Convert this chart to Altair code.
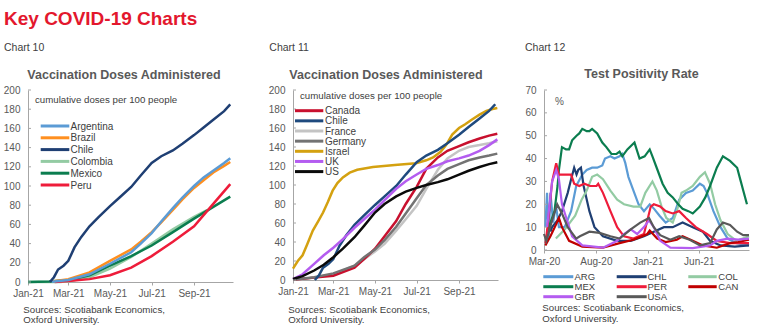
import altair as alt
import pandas as pd

FONT = "Liberation Sans"
TXT = "#404040"
AXC = "#595959"
DOM = "#A6A6A6"
TITLE_RED = "#E3172D"

# ---------------- Chart 10 data (cumulative doses per 100 people) ----------------
c10_names = ["Argentina", "Brazil", "Chile", "Colombia", "Mexico", "Peru"]
c10_colors = ["#5B9BD5", "#FF8F1F", "#1F3F73", "#93CBA3", "#0B7D4F", "#EE1C3A"]
c10_draw = ["Colombia", "Mexico", "Peru", "Brazil", "Argentina", "Chile"]

arg10_dates = ["2021-02-05", "2021-03-01", "2021-04-01", "2021-05-01", "2021-06-01", "2021-06-15",
               "2021-07-01", "2021-07-15", "2021-08-01", "2021-08-15", "2021-09-01", "2021-09-15",
               "2021-10-01", "2021-10-15", "2021-10-24"]
arg10_vals = [0.3, 2, 8, 19, 31, 40, 51, 63, 77, 88, 100, 109, 117, 124, 129]
bra10_dates = arg10_dates
bra10_vals = [0.5, 3, 10, 22, 34, 42, 52, 62, 75, 86, 98, 106, 115, 121, 125]
chile_dates = ["2021-02-02", "2021-02-08", "2021-02-14", "2021-02-22", "2021-03-01", "2021-03-10",
               "2021-03-20", "2021-04-01", "2021-04-15", "2021-05-01", "2021-05-15", "2021-06-01",
               "2021-06-15", "2021-07-01", "2021-07-15", "2021-08-01", "2021-08-15", "2021-09-01",
               "2021-09-15", "2021-10-01", "2021-10-15", "2021-10-24"]
chile_vals = [0, 5, 13, 17, 22, 36, 47, 58, 68, 79, 88, 99, 111, 124, 131, 137, 144, 153, 161, 170, 178, 185]
col10_dates = ["2021-01-01", "2021-02-17", "2021-03-01", "2021-04-01", "2021-05-01", "2021-06-01",
               "2021-07-01", "2021-08-01", "2021-09-01", "2021-09-20"]
col10_vals = [0, 0, 0.8, 5, 14, 26, 40, 55, 68, 75]
mex10_dates = ["2021-01-01", "2021-02-01", "2021-03-01", "2021-04-01", "2021-05-01", "2021-06-01",
               "2021-07-01", "2021-08-01", "2021-09-01", "2021-10-01", "2021-10-24"]
mex10_vals = [0, 0.5, 2, 7, 17, 27, 38, 52, 66, 79, 89]
per10_dates = ["2021-02-09", "2021-03-01", "2021-04-01", "2021-05-01", "2021-06-01", "2021-07-01",
               "2021-08-01", "2021-09-01", "2021-10-01", "2021-10-24"]
per10_vals = [0, 1, 3, 7, 15, 27, 42, 58, 83, 102]

# ---------------- Chart 11 data ----------------
c11_names = ["Canada", "Chile", "France", "Germany", "Israel", "UK", "US"]
c11_colors = ["#C8102E", "#1F4A7E", "#C4C4C4", "#737373", "#D4A110", "#B45CF0", "#0A0A0A"]
c11_draw = ["France", "Canada", "Germany", "Israel", "Chile", "UK", "US"]

semi_dates = ["2021-01-01", "2021-02-01", "2021-03-01", "2021-04-01", "2021-04-15", "2021-05-01",
              "2021-05-15", "2021-06-01", "2021-06-15", "2021-07-01", "2021-07-15", "2021-08-01",
              "2021-08-15", "2021-09-01", "2021-09-15", "2021-10-01", "2021-10-15", "2021-10-27"]
can_vals = [0.3, 2.5, 4.5, 13, 22, 33, 46, 62, 80, 98, 117, 129, 136, 141, 145, 149, 152, 154]
fra_vals = [0, 2.5, 6, 15, 22, 30, 38, 52, 64, 78, 96, 116, 128, 136, 140, 142, 144, 146]
ger_vals = [0.2, 2.8, 7, 15, 24, 32, 42, 56, 70, 86, 100, 110, 117, 122, 126, 129, 131, 133]
isr_dates = ["2021-01-01", "2021-01-08", "2021-01-15", "2021-01-22", "2021-01-30", "2021-02-07",
             "2021-02-14", "2021-02-21", "2021-02-28", "2021-03-07", "2021-03-15", "2021-03-25",
             "2021-04-05", "2021-04-28", "2021-05-30", "2021-06-30", "2021-07-15", "2021-07-25",
             "2021-08-05", "2021-08-13", "2021-08-22", "2021-09-01", "2021-09-10", "2021-09-20",
             "2021-10-01", "2021-10-11", "2021-10-20", "2021-10-27"]
isr_vals = [12, 20, 26, 38, 52, 62, 71, 82, 94, 102, 108, 113, 116, 119, 121, 123, 126, 129,
            135, 142, 153, 160, 164, 169, 174, 178, 180, 181]
half_dates = ["2021-01-01", "2021-01-15", "2021-02-01", "2021-02-15", "2021-03-01", "2021-03-15",
              "2021-04-01", "2021-04-15", "2021-05-01", "2021-05-15", "2021-06-01", "2021-06-15",
              "2021-07-01", "2021-07-15", "2021-08-01", "2021-08-15", "2021-09-01", "2021-09-15",
              "2021-10-01", "2021-10-15", "2021-10-27"]
uk_vals = [1, 6, 17, 26, 34, 43, 55, 64, 74, 84, 96, 104, 111, 117, 121, 125, 128, 131, 136, 142, 148]
us_vals = [1, 4, 10, 16, 24, 33, 45, 57, 71, 80, 88, 93, 97, 100, 103, 106, 111, 115, 119, 122, 124]

# ---------------- Chart 12 data (test positivity, %) ----------------
c12_names = ["ARG", "CHL", "COL", "MEX", "PER", "CAN", "GBR", "USA"]
c12_colors = ["#5B9BD5", "#1F3F73", "#93CBA3", "#0B7D4F", "#EE1C3A", "#C00000", "#B45CF0", "#595959"]

arg12_dates = ["2020-03-05", "2020-03-10", "2020-03-15", "2020-03-20", "2020-03-28", "2020-04-05",
               "2020-04-14", "2020-05-01", "2020-05-20", "2020-06-04", "2020-06-22", "2020-07-05",
               "2020-07-21", "2020-08-05", "2020-08-20", "2020-08-28", "2020-09-13", "2020-09-25",
               "2020-10-10", "2020-10-18", "2020-10-27", "2020-11-05", "2020-11-20", "2020-12-05",
               "2020-12-21", "2021-01-07", "2021-01-20", "2021-02-05", "2021-02-23", "2021-03-16",
               "2021-04-04", "2021-04-24", "2021-05-14", "2021-06-04", "2021-06-15", "2021-06-25",
               "2021-07-14", "2021-08-04", "2021-08-25", "2021-09-20", "2021-10-27"]
arg12_vals = [10, 25, 5, 25, 12, 20, 10, 10, 17, 28, 33, 35, 36, 36, 37, 40, 41, 40, 41, 42, 38,
              32, 26, 20, 17, 20, 18, 15, 12, 14, 22, 25, 26, 29, 28, 25, 17, 10, 5, 3, 2]
chl12_dates = ["2020-03-20", "2020-03-25", "2020-04-10", "2020-04-23", "2020-05-10", "2020-05-20",
               "2020-05-29", "2020-06-05", "2020-06-10", "2020-06-18", "2020-06-26", "2020-07-13",
               "2020-07-28", "2020-08-22", "2020-10-03", "2020-11-12", "2020-12-21", "2021-01-19",
               "2021-02-18", "2021-03-16", "2021-04-14", "2021-05-14", "2021-06-13", "2021-07-04",
               "2021-08-04", "2021-09-15", "2021-10-27"]
chl12_vals = [8, 10, 13, 17, 25, 31, 36, 33, 35, 36, 28, 17, 10, 6, 4, 4, 6, 8, 10, 10, 12, 10,
              8, 4, 2, 1.5, 2]
col12_dates = ["2020-04-05", "2020-05-01", "2020-06-01", "2020-06-20", "2020-07-05", "2020-07-21",
               "2020-08-05", "2020-08-22", "2020-09-13", "2020-10-03", "2020-10-23", "2020-11-20",
               "2020-12-10", "2020-12-25", "2021-01-15", "2021-01-28", "2021-02-11", "2021-02-25",
               "2021-03-16", "2021-03-28", "2021-04-11", "2021-04-24", "2021-05-14", "2021-06-04",
               "2021-06-19", "2021-07-04", "2021-07-19", "2021-08-04", "2021-08-25", "2021-09-20",
               "2021-10-27"]
col12_vals = [5, 9, 15, 22, 26, 32, 33, 31, 26, 22, 20, 19, 19, 25, 30, 26, 19, 14, 12, 17, 25,
              26, 28, 32, 34, 29, 20, 13, 7, 4, 6]
mex12_dates = ["2020-03-10", "2020-03-20", "2020-04-01", "2020-04-10", "2020-04-14", "2020-04-23",
               "2020-05-05", "2020-05-14", "2020-05-23", "2020-06-05", "2020-06-13", "2020-06-22",
               "2020-07-05", "2020-07-13", "2020-07-21", "2020-08-05", "2020-08-20", "2020-09-01",
               "2020-09-16", "2020-10-01", "2020-10-10", "2020-10-18", "2020-11-02", "2020-11-23",
               "2020-12-08", "2020-12-23", "2021-01-07", "2021-01-15", "2021-01-30", "2021-02-14",
               "2021-03-01", "2021-03-16", "2021-04-01", "2021-04-14", "2021-05-01", "2021-05-14",
               "2021-06-04", "2021-06-20", "2021-07-04", "2021-07-24", "2021-08-11", "2021-09-01",
               "2021-09-22", "2021-10-01", "2021-10-10", "2021-10-21"]
mex12_vals = [8, 12, 17, 28, 35, 45, 44, 44, 48, 50, 51, 53, 52, 52, 53, 51, 47, 45, 42, 42, 43,
              41, 44, 47, 40, 41, 44, 41, 35, 29, 25, 23, 20, 18, 17, 16, 19, 23, 28, 36, 41, 39,
              36, 31, 26, 20]
per12_dates = ["2020-03-06", "2020-03-15", "2020-03-25", "2020-04-06", "2020-04-14", "2020-05-05",
               "2020-05-20", "2020-05-29", "2020-06-13", "2020-06-28", "2020-07-15", "2020-08-03",
               "2020-08-08", "2020-08-22", "2020-09-13", "2020-10-03", "2020-10-23", "2020-11-20",
               "2020-12-21", "2021-01-10", "2021-01-19", "2021-02-07", "2021-02-23", "2021-03-16",
               "2021-04-04", "2021-04-24", "2021-05-23", "2021-06-25", "2021-07-24", "2021-09-01",
               "2021-10-27"]
per12_vals = [3, 15, 30, 38, 33, 33, 33, 29, 28, 29, 28, 28, 29, 25, 17, 10, 6, 5, 7, 19, 20, 19,
              17, 16, 17, 14, 10, 7, 4, 3, 3]
can12_dates = ["2020-03-05", "2020-03-20", "2020-04-05", "2020-04-14", "2020-04-23", "2020-05-14",
               "2020-06-22", "2020-08-22", "2020-10-10", "2020-11-20", "2020-12-31", "2021-01-07",
               "2021-01-29", "2021-02-23", "2021-03-28", "2021-04-14", "2021-05-14", "2021-06-13",
               "2021-07-24", "2021-09-01", "2021-09-25", "2021-10-27"]
can12_vals = [2, 6, 11, 14, 10, 4, 1.5, 1, 3, 4.5, 7, 8.5, 5, 3.5, 4.5, 6, 4, 2, 1, 3, 3.5, 4.5]
gbr12_dates = ["2020-03-10", "2020-03-25", "2020-04-06", "2020-04-14", "2020-04-23", "2020-05-08",
               "2020-05-23", "2020-06-22", "2020-08-22", "2020-10-03", "2020-10-23", "2020-11-12",
               "2020-12-01", "2020-12-21", "2021-01-05", "2021-01-19", "2021-02-07", "2021-03-09",
               "2021-05-14", "2021-07-04", "2021-07-24", "2021-08-25", "2021-09-25", "2021-10-27"]
gbr12_vals = [10, 30, 35, 31, 20, 13, 6, 2, 1, 4, 7, 9, 7, 10, 13, 10, 4, 1, 0.8, 2, 4, 5, 4.5, 5]
usa12_dates = ["2020-03-01", "2020-03-08", "2020-03-25", "2020-04-09", "2020-04-23", "2020-05-10",
               "2020-06-04", "2020-06-15", "2020-07-13", "2020-08-12", "2020-09-13", "2020-10-10",
               "2020-11-12", "2020-12-10", "2021-01-05", "2021-01-19", "2021-02-07", "2021-03-09",
               "2021-04-04", "2021-05-05", "2021-06-04", "2021-07-04", "2021-07-24", "2021-08-11",
               "2021-09-01", "2021-09-22", "2021-10-10", "2021-10-27"]
usa12_vals = [7, 4, 13, 20, 16, 10, 5, 6, 8, 7.5, 6, 5, 9, 12, 14, 10, 6.5, 4.5, 6, 4.5, 2, 3, 9,
              12, 11, 8, 6.5, 6.5]

# ---------------- text ----------------
main_title = "Key COVID-19 Charts"
vacc_title = "Vaccination Doses Administered"
vacc_sub = "cumulative doses per 100 people"
pos_title = "Test Positivity Rate"
src1 = "Sources: Scotiabank Economics,"
src2 = "Oxford University."

ONE = pd.DataFrame({"k": [0]})


def frame(series):
    rows = []
    for name, dates, vals in series:
        for d, v in zip(dates, vals):
            rows.append({"series": name, "date": d, "value": v})
    df = pd.DataFrame(rows)
    df["date"] = pd.to_datetime(df["date"])
    return df


def dt(y, m, d):
    return alt.DateTime(year=y, month=m, date=d)


def txt(s, x, y, size=10, weight="normal", color=TXT, align="left", baseline="alphabetic"):
    return alt.Chart(ONE).mark_text(
        text=s, font=FONT, fontSize=size, fontWeight=weight, color=color,
        align=align, baseline=baseline
    ).encode(x=alt.value(x), y=alt.value(y))


def legend_entry(name, color, x1, x2, xt, y, size=10):
    r = alt.Chart(ONE).mark_rule(color=color, strokeWidth=3).encode(
        x=alt.value(x1), x2=alt.value(x2), y=alt.value(y))
    t = txt(name, xt, y + 0.5, size=size, baseline="middle")
    return [r, t]


def xaxis(values):
    return alt.Axis(values=values, format="%b-%y", labelFlush=False, labelOverlap=False,
                    ticks=True, tickSize=3, tickColor=DOM, domainColor=DOM, grid=False,
                    labelPadding=3, title=None)


def yaxis(values):
    return alt.Axis(values=values, ticks=False, tickSize=0, labelPadding=8, labelFlush=False,
                    labelOverlap=False, domainColor=DOM, grid=False, title=None)


def inner_ticks(values, yscale):
    return alt.Chart(pd.DataFrame({"value": values})).mark_rule(color=DOM, strokeWidth=1).encode(
        y=alt.Y("value:Q", scale=yscale, axis=yaxis(values)), x=alt.value(0), x2=alt.value(3))


# ---------------- Panel 1 ----------------
s10 = {"Argentina": (arg10_dates, arg10_vals), "Brazil": (bra10_dates, bra10_vals),
       "Chile": (chile_dates, chile_vals), "Colombia": (col10_dates, col10_vals),
       "Mexico": (mex10_dates, mex10_vals), "Peru": (per10_dates, per10_vals)}
df10 = frame([(n, *s10[n]) for n in c10_draw])
vac_ticks = list(range(0, 201, 20))
vac_xvals = [dt(2021, 1, 1), dt(2021, 3, 1), dt(2021, 5, 1), dt(2021, 7, 1), dt(2021, 9, 1)]
vac_dom = [dt(2021, 1, 1), dt(2021, 10, 28)]
vac_y = alt.Scale(domain=[0, 200], nice=False)

lines10 = alt.Chart(df10).mark_line(strokeWidth=2.5).encode(
    x=alt.X("date:T", scale=alt.Scale(domain=vac_dom, range=[0, 205]), axis=xaxis(vac_xvals)),
    y=alt.Y("value:Q", scale=vac_y, axis=yaxis(vac_ticks)),
    color=alt.Color("series:N", scale=alt.Scale(domain=c10_names, range=c10_colors), legend=None),
)
p1_layers = [lines10, inner_ticks(vac_ticks, vac_y)]
for i, (n, c) in enumerate(zip(c10_names, c10_colors)):
    p1_layers += legend_entry(n, c, 12.7, 41.3, 42.5, 36 + i * 11.8)
p1_layers += [
    alt.Chart(ONE).mark_rect(opacity=0).encode(x=alt.value(-28), x2=alt.value(-27),
                                               y=alt.value(-90), y2=alt.value(-89)),
    txt(main_title, -24, -65, size=19, weight="bold", color=TITLE_RED),
    txt("Chart 10", -24, -39, size=10.5, color=TXT),
    txt(vacc_title, 96, -11, size=12.5, weight="bold", color=AXC, align="center"),
    txt(vacc_sub, 7, 13, size=9.7),
    txt(src1, -4.7, 222.7, size=9.7),
    txt(src2, -4.7, 233.3, size=9.7),
]
p1 = alt.layer(*p1_layers).properties(width=219, height=192)

# ---------------- Panel 2 ----------------
s11 = {"Canada": (semi_dates, can_vals), "Chile": (chile_dates, chile_vals),
       "France": (semi_dates, fra_vals), "Germany": (semi_dates, ger_vals),
       "Israel": (isr_dates, isr_vals), "UK": (half_dates, uk_vals), "US": (half_dates, us_vals)}
df11 = frame([(n, *s11[n]) for n in c11_draw])
lines11 = alt.Chart(df11).mark_line(strokeWidth=2.5).encode(
    x=alt.X("date:T", scale=alt.Scale(domain=vac_dom, range=[0, 205]), axis=xaxis(vac_xvals)),
    y=alt.Y("value:Q", scale=vac_y, axis=yaxis(vac_ticks)),
    color=alt.Color("series:N", scale=alt.Scale(domain=c11_names, range=c11_colors), legend=None),
)
p2_layers = [lines11, inner_ticks(vac_ticks, vac_y)]
for i, (n, c) in enumerate(zip(c11_names, c11_colors)):
    p2_layers += legend_entry(n, c, 2, 30.3, 32, 20.7 + i * 10.15)
p2_layers += [
    txt("Chart 11", -23.7, -39.3, size=10.5),
    txt(vacc_title, 93, -10.7, size=12.5, weight="bold", color=AXC, align="center"),
    txt(vacc_sub, 7, 9.3, size=9.7),
    txt(src1, -4.7, 222.7, size=9.7),
    txt(src2, -4.7, 233.3, size=9.7),
]
p2 = alt.layer(*p2_layers).properties(width=205, height=190)

# ---------------- Panel 3 ----------------
s12 = {"ARG": (arg12_dates, arg12_vals), "CHL": (chl12_dates, chl12_vals),
       "COL": (col12_dates, col12_vals), "MEX": (mex12_dates, mex12_vals),
       "PER": (per12_dates, per12_vals), "CAN": (can12_dates, can12_vals),
       "GBR": (gbr12_dates, gbr12_vals), "USA": (usa12_dates, usa12_vals)}
df12 = frame([(n, *s12[n]) for n in c12_names])
pos_ticks = list(range(0, 71, 10))
pos_xvals = [dt(2020, 3, 1), dt(2020, 8, 1), dt(2021, 1, 1), dt(2021, 6, 1)]
pos_y = alt.Scale(domain=[0, 70], nice=False)
lines12 = alt.Chart(df12).mark_line(strokeWidth=2.2).encode(
    x=alt.X("date:T", scale=alt.Scale(domain=[dt(2020, 3, 1), dt(2021, 10, 27)], range=[0, 205]),
            axis=xaxis(pos_xvals)),
    y=alt.Y("value:Q", scale=pos_y, axis=yaxis(pos_ticks)),
    color=alt.Color("series:N", scale=alt.Scale(domain=c12_names, range=c12_colors), legend=None),
)
p3_layers = [lines12, inner_ticks(pos_ticks, pos_y)]
col_x = [(-0.7, 29.3, 30.5), (72.7, 102.7, 103.5), (144.3, 172.7, 174.3)]
for i, (n, c) in enumerate(zip(c12_names, c12_colors)):
    x1, x2, xt = col_x[i % 3]
    p3_layers += legend_entry(n, c, x1, x2, xt, 186.7 + (i // 3) * 10, size=9.5)
p3_layers += [
    txt("Chart 12", -19, -39.3, size=10.5),
    txt(pos_title, 97.5, -11.7, size=12.5, weight="bold", color=AXC, align="center"),
    txt("%", 11, 15, size=10, color=AXC),
    txt(src1, -1.7, 221, size=9.7),
    txt(src2, -1.7, 231.7, size=9.7),
]
p3 = alt.layer(*p3_layers).properties(width=205, height=160)

chart = alt.hconcat(p1, p2, p3, spacing=46, bounds="flush", padding=0).resolve_scale(
    color="independent"
).configure_view(
    stroke=None
).configure_axis(
    labelFont=FONT, labelFontSize=10, labelColor=AXC
).properties(background="white")

chart.save("out.html", embed_options={"renderer": "svg", "actions": False})
